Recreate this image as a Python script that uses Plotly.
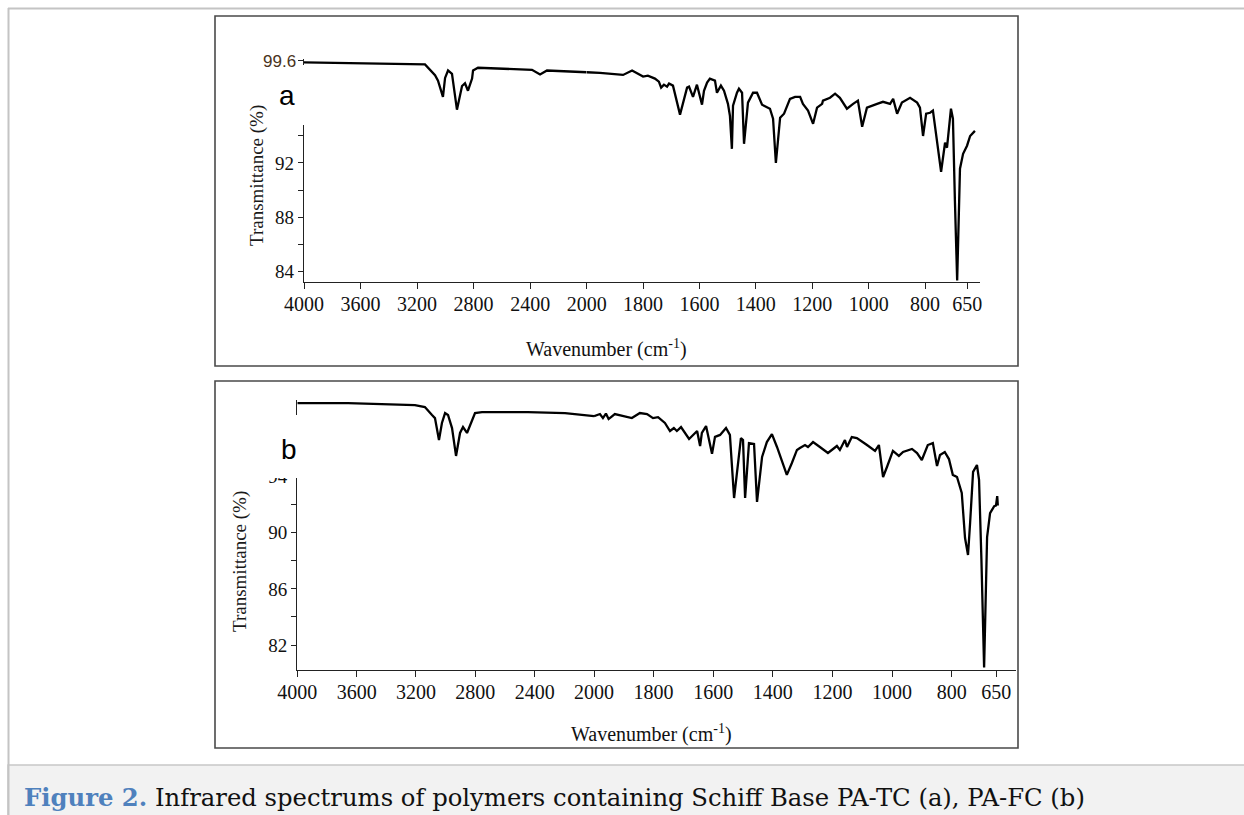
import plotly.graph_objects as go

W, H = 1244, 815

# panel a  (PA-TC) : wavenumber (cm-1) / transmittance (%)
wn_a = [4000, 3600, 3144, 3073, 3052, 3017, 3002, 2981, 2953, 2918, 2882, 2861, 2840,
        2811, 2804, 2769, 2387, 2330, 2281, 2000,
        1953, 1871, 1839, 1800, 1783, 1758, 1744, 1736, 1726, 1715, 1708, 1694, 1669,
        1644, 1637, 1623, 1609, 1591, 1584, 1573, 1563, 1545, 1538, 1524, 1513, 1499,
        1492, 1485, 1481, 1467, 1460, 1449, 1442, 1428, 1410, 1396, 1378, 1350, 1339,
        1329, 1314, 1300, 1279, 1261, 1243, 1233, 1215, 1197, 1183, 1165, 1162, 1137,
        1119, 1102, 1077, 1055, 1038, 1023, 1006, 970, 949, 924, 913, 899, 882, 853,
        828, 818, 807, 796, 782, 772, 743, 729, 722, 708, 701, 694, 686, 676, 665,
        651, 640, 623]
tr_a = [99.45, 99.40, 99.30, 98.50, 98.10, 96.90, 98.30, 98.85, 98.60, 95.95, 97.70, 97.90, 97.35,
        98.25, 98.85, 99.05, 98.90, 98.55, 98.85, 98.72,
        98.68, 98.52, 98.85, 98.40, 98.47, 98.25, 98.02, 97.58, 97.80, 97.65, 97.88, 97.73, 95.58,
        97.58, 97.65, 96.90, 97.80, 96.32, 97.35, 97.95, 98.25, 98.10, 97.20, 97.73, 97.35, 96.38,
        95.50, 93.05, 96.25, 97.20, 97.50, 97.20, 93.42, 96.47, 97.20, 97.20, 96.32, 96.02, 95.28,
        92.00, 95.35, 95.65, 96.75, 96.90, 96.90, 96.38, 95.88, 94.90, 96.10, 96.38, 96.62, 96.83,
        97.13, 96.83, 96.02, 96.38, 96.62, 94.68, 96.10, 96.38, 96.53, 96.38, 96.75, 95.65, 96.47,
        96.83, 96.47, 96.10, 94.00, 95.65, 95.72, 95.88, 91.35, 93.50, 93.13, 96.02, 95.28, 89.20,
        83.30, 91.58, 92.68, 93.28, 94.00, 94.38]

# panel b  (PA-FC)
wn_b = [4000, 3658, 3207, 3140, 3092, 3072, 3045, 3025, 3004, 2984, 2957, 2930, 2903,
        2883, 2856, 2836, 2802, 2755, 2445, 2195, 2094, 2000,
        1980, 1970, 1960, 1951, 1930, 1873, 1846, 1822, 1802, 1785, 1762, 1745, 1732,
        1722, 1708, 1681, 1654, 1644, 1638, 1624, 1618, 1604, 1594, 1577, 1557, 1544,
        1530, 1517, 1507, 1500, 1493, 1480, 1463, 1453, 1436, 1420, 1403, 1386, 1369,
        1353, 1336, 1319, 1309, 1292, 1282, 1265, 1242, 1215, 1185, 1175, 1158, 1151,
        1135, 1118, 1084, 1057, 1044, 1030, 1017, 997, 977, 963, 933, 916, 900, 880,
        863, 849, 839, 823, 809, 796, 782, 766, 755, 745, 738, 728, 715, 708, 700,
        691, 681, 671, 657, 651, 647, 645]
tr_b = [99.25, 99.25, 99.11, 98.97, 98.40, 98.18, 96.62, 97.83, 98.54, 98.40, 97.47, 95.48, 97.12,
        97.54, 97.12, 97.69, 98.54, 98.61, 98.61, 98.54, 98.40, 98.32,
        98.47, 98.18, 98.50, 98.11, 98.47, 98.18, 98.54, 98.47, 98.18, 98.25, 97.83, 97.26, 97.47,
        97.26, 97.54, 96.69, 97.26, 96.19, 97.12, 97.61, 96.98, 95.63, 96.84, 96.98, 97.47, 96.98,
        92.48, 94.69, 96.76, 96.62, 92.48, 96.40, 96.33, 92.20, 95.41, 96.47, 97.04, 96.12, 95.05,
        94.13, 94.98, 95.91, 96.05, 96.26, 96.12, 96.47, 96.12, 95.69, 96.19, 95.91, 96.62, 96.12,
        96.83, 96.76, 96.26, 95.84, 96.26, 93.98, 94.69, 95.84, 95.48, 95.76, 95.98, 95.69, 95.19, 96.26,
        96.40, 94.76, 95.55, 95.76, 95.26, 94.13, 93.98, 92.84, 89.63, 88.42, 90.70, 94.34, 94.84, 93.77, 88.06,
        80.40, 89.70, 91.41, 91.90, 91.95, 92.62, 91.95]

ticks_hi = [4000, 3600, 3200, 2800, 2400, 2000]
ticks_lo = [1800, 1600, 1400, 1200, 1000, 800, 650]
yt_a, yminor_a = [84, 88, 92], [86, 90, 94, 99.6]
yt_b, yminor_b = [82, 86, 90, 94], [84, 88, 92]

serif = "Liberation Serif"


def fx(p):
    return p / W


def fy(p):
    return 1 - p / H


def split(wn, tr):
    hi = [(w, t) for w, t in zip(wn, tr) if w >= 2000]
    lo = [(w, t) for w, t in zip(wn, tr) if w <= 2000]
    return hi, lo


fig = go.Figure()

line = dict(color="black", width=2.3)
for (wn, tr), xs in [((wn_a, tr_a), ("x", "x2", "y")), ((wn_b, tr_b), ("x3", "x4", "y2"))]:
    hi, lo = split(wn, tr)
    fig.add_trace(go.Scatter(x=[p[0] for p in hi], y=[p[1] for p in hi], mode="lines",
                             line=line, xaxis=xs[0], yaxis=xs[2], showlegend=False))
    fig.add_trace(go.Scatter(x=[p[0] for p in lo], y=[p[1] for p in lo], mode="lines",
                             line=line, xaxis=xs[1], yaxis=xs[2], showlegend=False))

xcommon = dict(showline=True, linecolor="#222", linewidth=1.3, ticks="outside", ticklen=6,
               tickcolor="#222", tickwidth=1.2, showgrid=False, zeroline=False,
               tickfont=dict(family=serif, size=20, color="#111"), tickmode="array",
               ticklabelstandoff=-2)
ycommon = dict(showline=True, linecolor="#222", linewidth=1.3, ticks="outside", ticklen=5,
               tickcolor="#222", tickwidth=1.2, showgrid=False, zeroline=False,
               tickfont=dict(family=serif, size=19, color="#111"), tickmode="array")


def minor(vals):
    return dict(tickmode="array", tickvals=vals, ticks="outside", ticklen=5,
                tickcolor="#222", tickwidth=1.2, showgrid=False)


fig.update_layout(
    width=W, height=H, margin=dict(l=0, r=0, t=0, b=0, autoexpand=False),
    paper_bgcolor="white", plot_bgcolor="rgba(0,0,0,0)",
    xaxis=dict(xcommon, domain=[fx(304), fx(586.7)], range=[4000, 2000], anchor="y",
               tickvals=ticks_hi, ticktext=[str(v) for v in ticks_hi]),
    xaxis2=dict(xcommon, domain=[fx(586.7), fx(980)], range=[2000, 605], anchor="y",
                tickvals=ticks_lo, ticktext=[str(v) for v in ticks_lo]),
    yaxis=dict(ycommon, domain=[fy(281.7), fy(59)], range=[83.21, 99.70], anchor="x",
               tickvals=yt_a, ticktext=[str(v) for v in yt_a], minor=minor(yminor_a)),
    xaxis3=dict(xcommon, domain=[fx(297.3), fx(594)], range=[4000, 2000], anchor="y2",
                tickvals=ticks_hi, ticktext=[str(v) for v in ticks_hi]),
    xaxis4=dict(xcommon, domain=[fx(594), fx(1016)], range=[2000, 584], anchor="y2",
                tickvals=ticks_lo, ticktext=[str(v) for v in ticks_lo]),
    yaxis2=dict(ycommon, domain=[fy(669.7), fy(400)], range=[80.24, 99.47], anchor="x3",
                tickvals=yt_b, ticktext=[str(v) for v in yt_b], minor=minor(yminor_b)),
)


def rect(x0, y0, x1, y1, **kw):
    fig.add_shape(type="rect", xref="paper", yref="paper",
                  x0=fx(x0), x1=fx(x1), y0=fy(y1), y1=fy(y0), **kw)


def hline(x0, x1, y, color, width):
    fig.add_shape(type="line", xref="paper", yref="paper",
                  x0=fx(x0), x1=fx(x1), y0=fy(y), y1=fy(y), line=dict(color=color, width=width))


# page frame and caption band
rect(8, 765, 1250, 820, fillcolor="#f2f2f2", line=dict(color="#c8c8c8", width=1.5), layer="below")
hline(8, 1244, 8.5, "#c4c4c4", 2)
fig.add_shape(type="line", xref="paper", yref="paper", x0=fx(8.5), x1=fx(8.5), y0=0, y1=fy(8),
              line=dict(color="#c4c4c4", width=2))

# panel frames
rect(215, 16, 1018, 366, line=dict(color="#4a4a4a", width=1.6), layer="below")
rect(215, 381, 1018, 748, line=dict(color="#4a4a4a", width=1.6), layer="below")

# white label boxes pasted over the axes
rect(240, 65, 307, 100, fillcolor="white", line=dict(width=0), layer="above")
rect(266, 65, 307, 125, fillcolor="white", line=dict(width=0), layer="above")
rect(226, 415, 302, 478, fillcolor="white", line=dict(width=0), layer="above")

ann = []
ann.append(dict(text="99.6", x=fx(298), y=fy(61), xanchor="right", yanchor="middle",
                font=dict(family="Liberation Sans", size=17, color="#4a3320")))
ann.append(dict(text="a", x=fx(287), y=fy(96), xanchor="center", yanchor="middle",
                font=dict(family="Liberation Sans", size=28, color="black")))
ann.append(dict(text="b", x=fx(289), y=fy(449), xanchor="center", yanchor="middle",
                font=dict(family="Liberation Sans", size=28, color="black")))
ann.append(dict(text="Transmittance (%)", x=fx(257), y=fy(176), textangle=-90,
                xanchor="center", yanchor="middle", font=dict(family=serif, size=19, color="#1a1a1a")))
ann.append(dict(text="Transmittance (%)", x=fx(240), y=fy(561), textangle=-90,
                xanchor="center", yanchor="middle", font=dict(family=serif, size=19, color="#1a1a1a")))
ann.append(dict(text="Wavenumber (cm<sup>-1</sup>)", x=fx(606), y=fy(348),
                xanchor="center", yanchor="middle", font=dict(family=serif, size=20, color="#111")))
ann.append(dict(text="Wavenumber (cm<sup>-1</sup>)", x=fx(651), y=fy(733),
                xanchor="center", yanchor="middle", font=dict(family=serif, size=20, color="#111")))
ann.append(dict(text='<span style="color:#4f81bd"><b>Figure 2.</b></span> Infrared spectrums of polymers '
                     'containing Schiff Base PA-TC (a), PA-FC (b)',
                x=fx(22), y=fy(797), xanchor="left", yanchor="middle",
                font=dict(family="DejaVu Serif", size=24.3, color="#111")))
for a in ann:
    a.update(xref="paper", yref="paper", showarrow=False)
fig.update_layout(annotations=ann)

# page body has a default 8px margin; drop it so the 1244x815 figure fills the window
fig.write_html("out.html", config={"displayModeBar": False},
               post_script="document.body.style.margin='0';document.body.style.overflow='hidden';")
